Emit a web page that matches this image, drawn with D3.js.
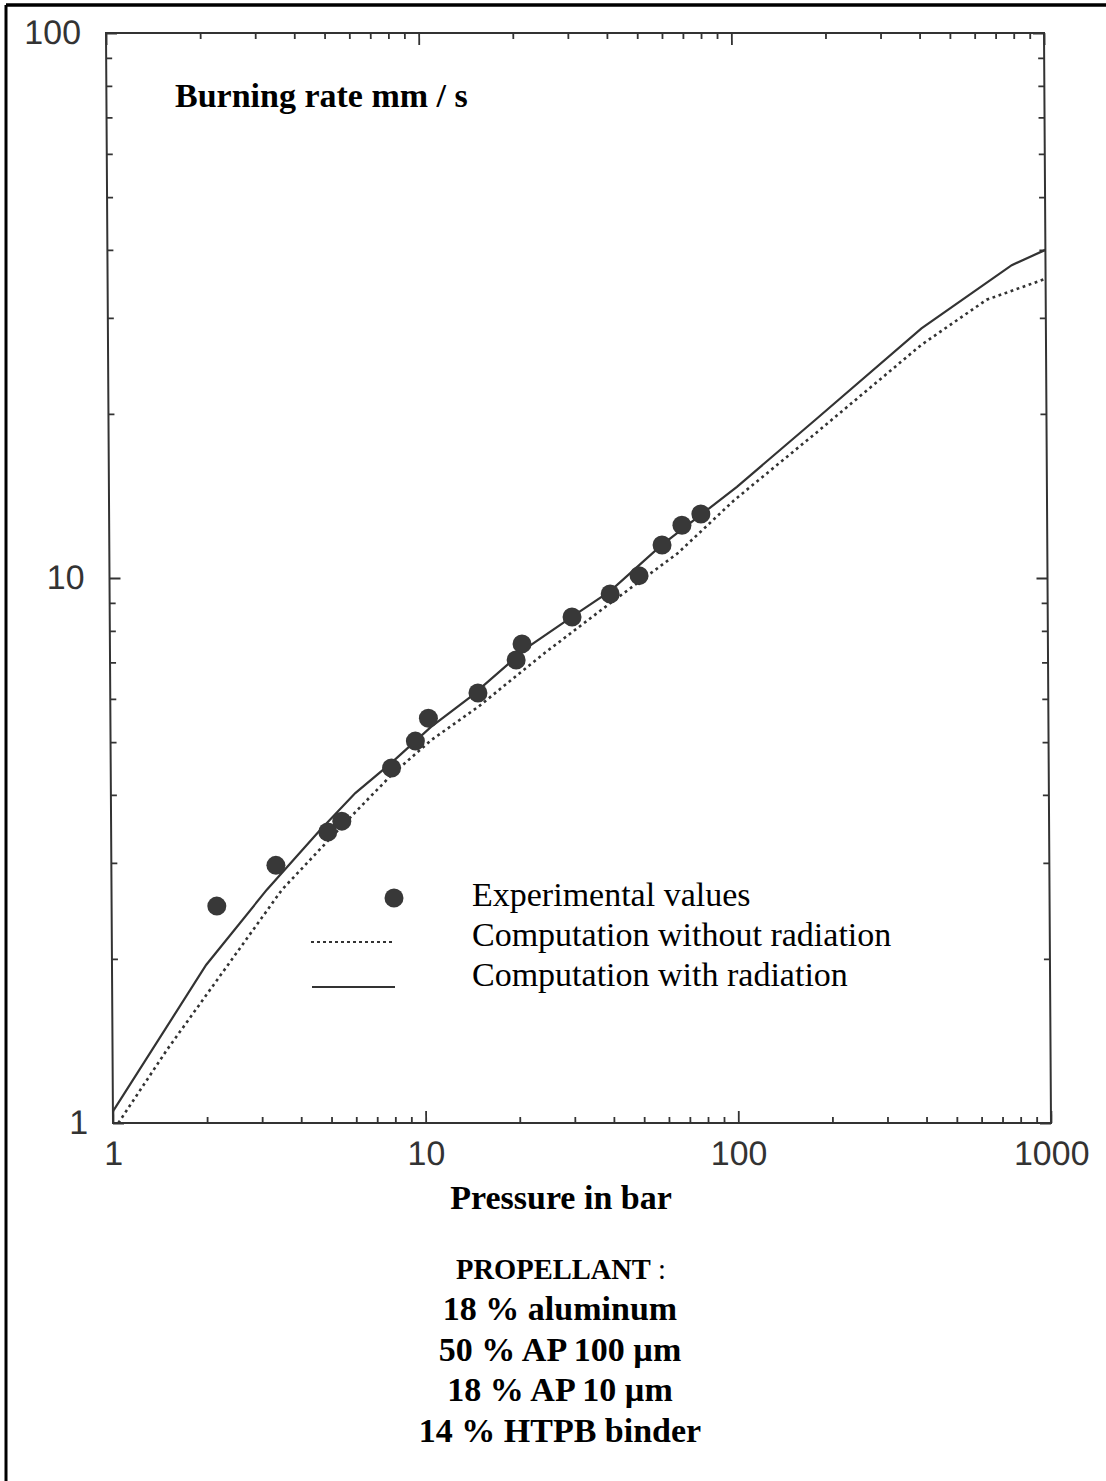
<!DOCTYPE html>
<html>
<head>
<meta charset="utf-8">
<script src="https://cdn.jsdelivr.net/npm/d3@7"></script>
<style>
  html, body { margin: 0; padding: 0; background: #fff; }
  svg { display: block; }
</style>
</head>
<body>
<script>
// ---- data ----
const expPressure = [2.17, 3.36, 4.93, 5.47, 7.91, 9.44, 10.4, 15.0, 19.9, 20.8, 30.1, 39.9, 49.4, 58.6, 67.9, 78.1];
const expRate     = [2.50, 2.97, 3.42, 3.58, 4.48, 5.02, 5.53, 6.15, 7.07, 7.57, 8.48, 9.35, 10.1, 11.5, 12.5, 13.1];

const radPressure = [1, 2, 3.14, 4.6, 6.05, 7.9, 10.6, 14.2, 21.7, 31.4, 40, 58, 78, 102, 184, 400, 780, 1000];
const radRate     = [1.05, 1.95, 2.68, 3.42, 4.03, 4.58, 5.33, 6.05, 7.47, 8.63, 9.47, 11.45, 13.05, 14.7, 19.6, 28.7, 37.5, 40.0];

const noRadPressure = [1.04, 1.49, 3.51, 4.85, 6.05, 7.9, 10.6, 15.0, 24.6, 40, 65.7, 100, 184, 400, 647, 1000];
const noRadRate     = [1.0, 1.36, 2.68, 3.26, 3.72, 4.35, 5.04, 5.80, 7.29, 9.0, 11.1, 13.9, 18.5, 26.8, 32.4, 35.4];

const majorTicks = [1, 10, 100, 1000];
const majorTicksY = [1, 10, 100];
const xTickLabels = ["1", "10", "100", "1000"];
const yTickLabels = ["1", "10", "100"];

const legendLabels = ["Experimental values", "Computation without radiation", "Computation with radiation"];
const titleText = "Burning rate mm / s";
const xTitle = "Pressure in bar";
const propellantLines = ["18 % aluminum", "50 % AP 100 µm", "18 % AP 10 µm", "14 % HTPB binder"];

// ---- layout ----
const W = 1106, H = 1481;
const L = 113, R = 1051, T = 33, B = 1123;
const ink = "#333";
const serif = "'Liberation Serif', 'Times New Roman', Times, serif";
const sans = "'Liberation Sans', Arial, Helvetica, sans-serif";

const svg = d3.select("body").append("svg").attr("width", W).attr("height", H);

// outer frame (top and left edges visible)
svg.append("line").attr("x1", 6).attr("x2", W).attr("y1", 5).attr("y2", 5)
  .attr("stroke", "#000").attr("stroke-width", 3.5);
svg.append("line").attr("x1", 6).attr("x2", 6).attr("y1", 5).attr("y2", H)
  .attr("stroke", "#000").attr("stroke-width", 3);

const x = d3.scaleLog().domain([1, 1000]).range([L, R]);
const y = d3.scaleLog().domain([1, 100]).range([B, T]);

// slight scan skew of the plot frame
const k = 7 / 1090;
const skewDeg = Math.atan(k) * 180 / Math.PI;
const g = svg.append("g").attr("transform", `translate(${-k * B},0) skewX(${skewDeg})`);

svg.append("defs").append("clipPath").attr("id", "clip")
  .append("rect").attr("x", L).attr("y", T).attr("width", R - L).attr("height", B - T);

// minor ticks
const minorX = [];
for (let d = 1; d < 1000; d *= 10) for (let m = 2; m <= 9; m++) minorX.push(d * m);
const minorY = [];
for (let d = 1; d < 100; d *= 10) for (let m = 2; m <= 9; m++) minorY.push(d * m);

function styleAxis(sel) {
  sel.select(".domain").remove();
  sel.selectAll(".tick line").attr("stroke", ink).attr("stroke-width", 1.8);
}

// bottom
g.append("g").attr("transform", `translate(0,${B})`)
  .call(d3.axisBottom(x).tickValues(minorX).tickSizeInner(-6).tickSizeOuter(0).tickFormat(""))
  .call(styleAxis);
const bx = g.append("g").attr("transform", `translate(0,${B})`)
  .call(d3.axisBottom(x).tickValues(majorTicks).tickSizeInner(-12).tickSizeOuter(0).tickPadding(18)
    .tickFormat((d, i) => xTickLabels[i]))
  .call(styleAxis);
bx.selectAll("text").attr("font-family", sans).attr("font-size", 34).attr("fill", ink);

// top
g.append("g").attr("transform", `translate(0,${T})`)
  .call(d3.axisTop(x).tickValues(minorX).tickSizeInner(-6).tickSizeOuter(0).tickFormat(""))
  .call(styleAxis);
g.append("g").attr("transform", `translate(0,${T})`)
  .call(d3.axisTop(x).tickValues(majorTicks).tickSizeInner(-12).tickSizeOuter(0).tickFormat(""))
  .call(styleAxis);

// left
g.append("g").attr("transform", `translate(${L},0)`)
  .call(d3.axisLeft(y).tickValues(minorY).tickSizeInner(-6).tickSizeOuter(0).tickFormat(""))
  .call(styleAxis);
const ly = g.append("g").attr("transform", `translate(${L},0)`)
  .call(d3.axisLeft(y).tickValues(majorTicksY).tickSizeInner(-11).tickSizeOuter(0).tickPadding(25)
    .tickFormat((d, i) => yTickLabels[i]))
  .call(styleAxis);
ly.selectAll("text").attr("font-family", sans).attr("font-size", 34).attr("fill", ink);

// right
g.append("g").attr("transform", `translate(${R},0)`)
  .call(d3.axisRight(y).tickValues(minorY).tickSizeInner(-6).tickSizeOuter(0).tickFormat(""))
  .call(styleAxis);
g.append("g").attr("transform", `translate(${R},0)`)
  .call(d3.axisRight(y).tickValues(majorTicksY).tickSizeInner(-11).tickSizeOuter(0).tickFormat(""))
  .call(styleAxis);

// frame
g.append("rect").attr("x", L).attr("y", T).attr("width", R - L).attr("height", B - T)
  .attr("fill", "none").attr("stroke", ink).attr("stroke-width", 2);

// curves
const line = d3.line().x(d => x(d[0])).y(d => y(d[1]));
const plot = g.append("g").attr("clip-path", "url(#clip)");
plot.append("path")
  .datum(noRadPressure.map((p, i) => [p, noRadRate[i]]))
  .attr("d", line).attr("fill", "none").attr("stroke", "#333")
  .attr("stroke-width", 2.6).attr("stroke-dasharray", "2.8,3.6");
plot.append("path")
  .datum(radPressure.map((p, i) => [p, radRate[i]]))
  .attr("d", line).attr("fill", "none").attr("stroke", ink).attr("stroke-width", 2.2);

// experimental points
g.append("g").selectAll("circle")
  .data(expPressure.map((p, i) => [p, expRate[i]]))
  .join("circle")
  .attr("cx", d => x(d[0])).attr("cy", d => y(d[1])).attr("r", 9.5)
  .attr("fill", "#383838");

// title inside plot
svg.append("text").attr("x", 175).attr("y", 107).text(titleText)
  .attr("font-family", serif).attr("font-weight", "bold").attr("font-size", 34).attr("fill", "#000");

// legend
const lg = svg.append("g");
lg.append("circle").attr("cx", 394).attr("cy", 898).attr("r", 9.5).attr("fill", "#383838");
lg.append("line").attr("x1", 311).attr("x2", 392).attr("y1", 942).attr("y2", 942)
  .attr("stroke", "#333").attr("stroke-width", 2).attr("stroke-dasharray", "3,3");
lg.append("line").attr("x1", 312).attr("x2", 395).attr("y1", 987).attr("y2", 987)
  .attr("stroke", ink).attr("stroke-width", 2.2);
lg.selectAll("text").data(legendLabels).join("text")
  .attr("x", 472).attr("y", (d, i) => 906 + i * 40)
  .text(d => d)
  .attr("font-family", serif).attr("font-size", 34).attr("fill", "#000");

// x title
svg.append("text").attr("x", 561).attr("y", 1209).attr("text-anchor", "middle").text(xTitle)
  .attr("font-family", serif).attr("font-weight", "bold").attr("font-size", 34).attr("fill", "#000");

// propellant composition
const pt = svg.append("text").attr("x", 561).attr("y", 1279).attr("text-anchor", "middle")
  .attr("font-family", serif).attr("fill", "#000");
pt.append("tspan").attr("font-weight", "bold").attr("font-size", 28.5).text("PROPELLANT");
pt.append("tspan").attr("font-size", 28.5).text(" :");

svg.append("g").selectAll("text").data(propellantLines).join("text")
  .attr("x", 560).attr("y", (d, i) => 1320 + i * 40.5).attr("text-anchor", "middle")
  .text(d => d)
  .attr("font-family", serif).attr("font-weight", "bold").attr("font-size", 34).attr("fill", "#000");
</script>
</body>
</html>
